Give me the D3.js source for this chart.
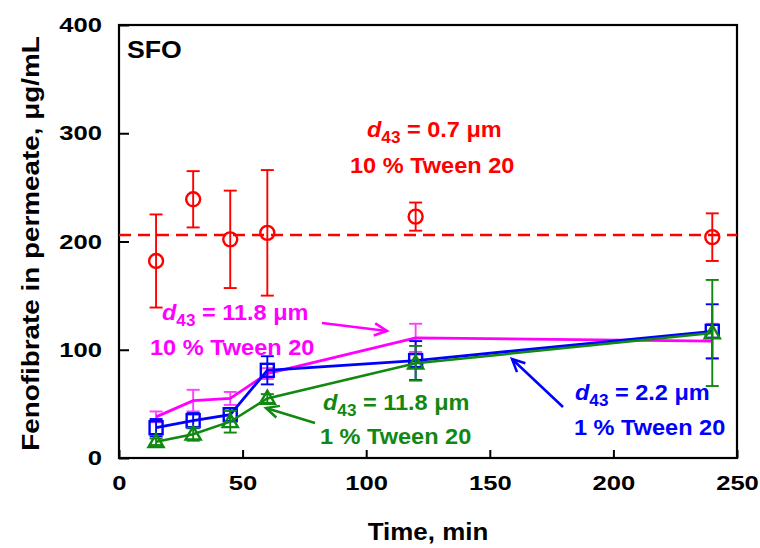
<!DOCTYPE html>
<html><head><meta charset="utf-8">
<script src="https://cdn.jsdelivr.net/npm/d3@7"></script>
<style>body{margin:0;background:#fff}text{font-family:"Liberation Sans",Arial,sans-serif;font-weight:bold}</style>
</head><body><svg id="c" width="760" height="548"></svg>
<script>
const times = [15, 30, 45, 60, 120, 240];
const red = [182, 239, 202, 208, 223, 204];
const redErr = [43, 26, 45, 58, 13, 22];
const redMean = 206;
const magenta = [38, 53, 55, 78, 111, 108];
const magentaErr = [5, 10, 6, 5, 13, 16];
const blue = [28, 34.5, 40, 81, 90, 117];
const blueErr = [8, 7, 6, 13, 18, 25];
const green = [15, 22, 33.5, 55, 87.5, 115.5];
const greenErr = [3, 6, 10, 4, 16, 49];
const xTicks = [0, 50, 100, 150, 200, 250];
const yTicks = [0, 100, 200, 300, 400];

const svg = d3.select("#c");
const L = 119, R = 737, T = 25, B = 458;
const x = d3.scaleLinear().domain([0, 250]).range([L, R]);
const y = d3.scaleLinear().domain([0, 400]).range([B, T]);

// axes
const xa = svg.append("g").attr("transform", `translate(0,${B})`)
  .call(d3.axisBottom(x).tickValues(xTicks).tickSizeInner(-8).tickSizeOuter(0).tickPadding(17));
const ya = svg.append("g").attr("transform", `translate(${L},0)`)
  .call(d3.axisLeft(y).tickValues(yTicks).tickSizeInner(-10).tickSizeOuter(0).tickPadding(14));
[xa, ya].forEach(g => {
  g.select(".domain").remove();
  g.selectAll("line").attr("stroke", "#000").attr("stroke-width", 2);
  g.selectAll("text").attr("fill", "#000").style("font-size", "21px").attr("transform", "scale(1.22,1)");
});
svg.append("rect").attr("x", L).attr("y", T).attr("width", R - L).attr("height", B - T)
  .attr("fill", "none").attr("stroke", "#000").attr("stroke-width", 2.2);

function txt(xp, yp, size, s, anchor, rot) {
  return svg.append("text").attr("transform", `translate(${xp},${yp})${rot ? " rotate(-90)" : ""} scale(${s},1)`)
    .attr("text-anchor", anchor || "start").style("font-size", size + "px");
}
txt((L + R) / 2, 540, 24, 1.08, "middle").text("Time, min");
txt(39, (T + B) / 2 + 2, 24, 1.16, "middle", true).text("Fenofibrate in permeate, μg/mL");
txt(127, 58, 23, 1.16).text("SFO");

// red mean dashed line
svg.append("line").attr("x1", L).attr("x2", R).attr("y1", y(redMean)).attr("y2", y(redMean))
  .attr("stroke", "#ff0000").attr("stroke-width", 2.4).attr("stroke-dasharray", "12,7");

function errBars(vals, errs, color, op) {
  const g = svg.append("g").attr("stroke", color).attr("stroke-width", 1.9).attr("opacity", op);
  times.forEach((t, i) => {
    const xx = x(t), y1 = y(vals[i] + errs[i]), y0 = y(vals[i] - errs[i]);
    g.append("line").attr("x1", xx).attr("x2", xx).attr("y1", y1).attr("y2", y0);
    g.append("line").attr("x1", xx - 6.5).attr("x2", xx + 6.5).attr("y1", y1).attr("y2", y1);
    g.append("line").attr("x1", xx - 6.5).attr("x2", xx + 6.5).attr("y1", y0).attr("y2", y0);
  });
}
const line = d3.line().x((d, i) => x(times[i])).y(d => y(d));

// red
errBars(red, redErr, "#ff0000", 1);
svg.append("g").selectAll("circle").data(red).join("circle")
  .attr("cx", (d, i) => x(times[i])).attr("cy", d => y(d)).attr("r", 7)
  .attr("fill", "none").attr("stroke", "#ff0000").attr("stroke-width", 2.4);

// magenta
errBars(magenta, magentaErr, "#ff00ff", 0.75);
svg.append("path").datum(magenta).attr("d", line).attr("fill", "none")
  .attr("stroke", "#ff00ff").attr("stroke-width", 2.8);

// blue
errBars(blue, blueErr, "#0000ff", 1);
svg.append("path").datum(blue).attr("d", line).attr("fill", "none")
  .attr("stroke", "#0000ff").attr("stroke-width", 2.8);
svg.append("g").selectAll("rect").data(blue).join("rect")
  .attr("x", (d, i) => x(times[i]) - 6.5).attr("y", d => y(d) - 6.5).attr("width", 13).attr("height", 13)
  .attr("fill", "none").attr("stroke", "#0000ff").attr("stroke-width", 2.4);

// green
errBars(green, greenErr, "#118811", 1);
svg.append("path").datum(green).attr("d", line).attr("fill", "none")
  .attr("stroke", "#118811").attr("stroke-width", 2.5);
const tri = d3.symbol().type(d3.symbolTriangle).size(100);
svg.append("g").selectAll("path").data(green).join("path")
  .attr("transform", (d, i) => `translate(${x(times[i])},${y(d) + 1})`).attr("d", tri)
  .attr("fill", "none").attr("stroke", "#118811").attr("stroke-width", 2.4);

// annotations
function label(xp, yp, size, color, l1) {
  const t = txt(xp, yp, 22, 1.07).attr("fill", color);
  t.append("tspan").style("font-style", "italic").text("d");
  t.append("tspan").attr("dy", 6).style("font-size", "16px").text("43");
  t.append("tspan").attr("dy", -6).text(" = " + size + " μm");
  txt(l1[0], l1[1], 22, 1.07).attr("fill", color).text(l1[2]);
}
label(367, 137, "0.7", "#ff0000", [350, 173, "10 % Tween 20"]);
label(162, 320, "11.8", "#ff00ff", [150, 355, "10 % Tween 20"]);
label(323, 410, "11.8", "#118811", [320, 444, "1 % Tween 20"]);
label(575, 400, "2.2", "#0000ff", [574, 435, "1 % Tween 20"]);

function arrow(x1, y1, x2, y2, color) {
  const g = svg.append("g").attr("stroke", color).attr("stroke-width", 2.5).attr("fill", "none");
  g.append("line").attr("x1", x1).attr("y1", y1).attr("x2", x2).attr("y2", y2);
  const a = Math.atan2(y2 - y1, x2 - x1), h = 14, w = 0.45;
  g.append("path").attr("d", `M${x2 - h * Math.cos(a - w)},${y2 - h * Math.sin(a - w)}L${x2},${y2}L${x2 - h * Math.cos(a + w)},${y2 - h * Math.sin(a + w)}`);
}
arrow(322, 323, 387, 331, "#ff00ff");
arrow(315, 423, 266, 408, "#118811");
arrow(563, 407, 512, 359, "#0000ff");
</script></body></html>
